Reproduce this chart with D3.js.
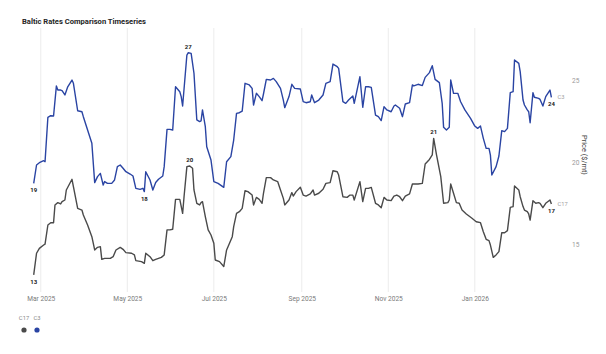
<!DOCTYPE html>
<html>
<head>
<meta charset="utf-8">
<script src="https://cdn.jsdelivr.net/npm/d3@7"></script>
<style>
  body { margin: 0; background: #fff; }
  svg { font-family: "Roboto", "Open Sans", sans-serif; }
</style>
</head>
<body>
<svg id="chart" width="606" height="354"></svg>
<script>
// C3 series (blue)
const c3Dates = ["2025-02-24","2025-02-26","2025-02-28","2025-03-03","2025-03-04","2025-03-06","2025-03-08","2025-03-10","2025-03-12","2025-03-13","2025-03-15","2025-03-16","2025-03-18","2025-03-20","2025-03-23","2025-03-24","2025-03-27","2025-03-30","2025-03-31","2025-04-03","2025-04-06","2025-04-08","2025-04-10","2025-04-12","2025-04-14","2025-04-15","2025-04-17","2025-04-20","2025-04-22","2025-04-24","2025-04-26","2025-04-28","2025-04-30","2025-05-03","2025-05-05","2025-05-07","2025-05-10","2025-05-12","2025-05-13","2025-05-14","2025-05-17","2025-05-19","2025-05-21","2025-05-23","2025-05-26","2025-05-27","2025-05-29","2025-05-31","2025-06-02","2025-06-04","2025-06-07","2025-06-08","2025-06-09","2025-06-12","2025-06-13","2025-06-15","2025-06-17","2025-06-19","2025-06-21","2025-06-22","2025-06-23","2025-06-25","2025-06-26","2025-06-29","2025-07-01","2025-07-04","2025-07-08","2025-07-10","2025-07-13","2025-07-15","2025-07-17","2025-07-19","2025-07-21","2025-07-23","2025-07-26","2025-07-28","2025-07-29","2025-07-31","2025-08-02","2025-08-04","2025-08-05","2025-08-07","2025-08-10","2025-08-12","2025-08-14","2025-08-17","2025-08-19","2025-08-20","2025-08-23","2025-08-25","2025-08-27","2025-08-31","2025-09-02","2025-09-04","2025-09-07","2025-09-08","2025-09-10","2025-09-13","2025-09-16","2025-09-18","2025-09-21","2025-09-23","2025-09-26","2025-09-27","2025-09-30","2025-10-02","2025-10-04","2025-10-07","2025-10-08","2025-10-12","2025-10-14","2025-10-16","2025-10-18","2025-10-20","2025-10-23","2025-10-25","2025-10-27","2025-10-29","2025-10-31","2025-11-03","2025-11-05","2025-11-06","2025-11-09","2025-11-11","2025-11-13","2025-11-16","2025-11-18","2025-11-19","2025-11-22","2025-11-25","2025-11-27","2025-11-30","2025-12-02","2025-12-04","2025-12-07","2025-12-09","2025-12-10","2025-12-12","2025-12-14","2025-12-15","2025-12-17","2025-12-20","2025-12-22","2025-12-25","2025-12-29","2026-01-01","2026-01-03","2026-01-05","2026-01-07","2026-01-09","2026-01-11","2026-01-12","2026-01-13","2026-01-16","2026-01-18","2026-01-20","2026-01-22","2026-01-24","2026-01-26","2026-01-28","2026-01-29","2026-02-01","2026-02-02","2026-02-04","2026-02-05","2026-02-07","2026-02-08","2026-02-09","2026-02-11","2026-02-12","2026-02-15","2026-02-16","2026-02-18","2026-02-20","2026-02-23","2026-02-24"];
const c3Values = [18.71,19.83,19.97,20.09,20.03,22.73,22.83,22.81,24.64,24.39,24.39,24.35,24.09,24.59,25.00,24.80,23.13,23.07,22.77,21.96,21.15,18.76,19.12,19.32,18.61,18.82,18.71,18.71,18.92,19.73,19.83,19.63,19.42,19.28,19.16,18.41,18.35,18.41,18.21,19.42,18.92,18.31,18.76,18.96,19.16,19.73,22.00,22.00,21.96,24.59,24.29,23.99,23.42,26.52,26.66,26.62,25.41,22.57,22.47,22.51,23.18,22.16,20.94,20.13,18.82,18.71,18.47,20.03,20.34,21.35,22.97,23.01,23.11,24.80,24.70,24.49,23.48,24.19,23.99,23.74,24.15,25.04,25.00,25.10,24.90,24.49,23.78,23.32,23.99,24.74,24.49,24.45,23.68,23.62,23.68,24.09,23.62,23.78,24.09,24.80,24.90,25.97,25.81,25.71,23.68,23.58,23.78,24.03,23.58,25.20,23.34,24.59,24.59,24.55,22.87,22.77,22.53,23.38,23.18,23.07,23.42,23.48,23.28,22.77,23.54,23.62,24.70,24.64,24.74,24.66,25.16,25.45,25.87,25.04,24.84,23.58,22.12,21.96,22.12,25.00,24.19,24.19,23.68,23.18,22.67,22.20,22.06,22.20,21.45,20.84,20.84,20.43,19.22,19.73,20.38,21.92,21.86,22.06,24.23,24.29,26.22,26.01,25.51,23.78,23.48,23.18,23.07,22.40,24.23,23.95,23.88,23.82,23.42,23.99,24.39,23.95];

// C17 series (grey)
const c17Dates = ["2025-02-24","2025-02-26","2025-02-28","2025-03-03","2025-03-04","2025-03-06","2025-03-08","2025-03-10","2025-03-11","2025-03-13","2025-03-15","2025-03-16","2025-03-18","2025-03-19","2025-03-23","2025-03-24","2025-03-27","2025-03-30","2025-03-31","2025-04-03","2025-04-06","2025-04-08","2025-04-10","2025-04-12","2025-04-13","2025-04-15","2025-04-19","2025-04-21","2025-04-23","2025-04-26","2025-04-28","2025-04-30","2025-05-04","2025-05-06","2025-05-07","2025-05-11","2025-05-13","2025-05-14","2025-05-17","2025-05-19","2025-05-21","2025-05-25","2025-05-27","2025-05-29","2025-05-31","2025-06-02","2025-06-04","2025-06-07","2025-06-09","2025-06-10","2025-06-12","2025-06-14","2025-06-16","2025-06-17","2025-06-19","2025-06-21","2025-06-22","2025-06-23","2025-06-25","2025-06-27","2025-06-29","2025-07-01","2025-07-02","2025-07-05","2025-07-08","2025-07-10","2025-07-11","2025-07-14","2025-07-15","2025-07-17","2025-07-19","2025-07-21","2025-07-23","2025-07-25","2025-07-28","2025-07-29","2025-07-31","2025-08-02","2025-08-04","2025-08-05","2025-08-07","2025-08-10","2025-08-12","2025-08-15","2025-08-17","2025-08-19","2025-08-20","2025-08-23","2025-08-25","2025-08-26","2025-08-28","2025-08-31","2025-09-02","2025-09-04","2025-09-07","2025-09-09","2025-09-10","2025-09-13","2025-09-16","2025-09-18","2025-09-21","2025-09-23","2025-09-26","2025-09-27","2025-09-30","2025-10-03","2025-10-05","2025-10-07","2025-10-08","2025-10-12","2025-10-14","2025-10-16","2025-10-18","2025-10-20","2025-10-23","2025-10-25","2025-10-27","2025-10-29","2025-10-31","2025-11-03","2025-11-05","2025-11-07","2025-11-09","2025-11-11","2025-11-13","2025-11-16","2025-11-18","2025-11-20","2025-11-22","2025-11-25","2025-11-27","2025-11-30","2025-12-02","2025-12-03","2025-12-05","2025-12-08","2025-12-10","2025-12-13","2025-12-14","2025-12-15","2025-12-17","2025-12-19","2025-12-21","2025-12-23","2025-12-26","2025-12-30","2026-01-02","2026-01-05","2026-01-07","2026-01-09","2026-01-11","2026-01-12","2026-01-14","2026-01-16","2026-01-18","2026-01-20","2026-01-22","2026-01-24","2026-01-26","2026-01-28","2026-01-29","2026-02-01","2026-02-02","2026-02-04","2026-02-05","2026-02-07","2026-02-08","2026-02-09","2026-02-11","2026-02-13","2026-02-15","2026-02-16","2026-02-18","2026-02-20","2026-02-23","2026-02-24"];
const c17Values = [13.14,14.46,14.76,14.96,15.02,16.18,16.32,16.32,17.40,17.54,17.46,17.60,17.70,18.31,18.96,18.51,17.19,17.09,16.79,16.18,15.47,14.66,14.82,14.86,14.09,14.15,14.15,14.25,14.66,14.82,14.70,14.50,14.46,14.36,14.01,13.95,13.85,14.46,14.25,14.01,14.09,14.21,14.36,15.88,15.88,15.92,17.74,17.74,16.89,17.90,19.73,19.77,19.63,18.31,17.50,17.40,17.54,17.60,16.69,15.88,15.57,15.07,14.05,13.95,13.65,14.66,14.86,15.47,16.08,16.89,16.99,17.19,18.27,18.21,18.00,17.40,17.86,17.74,17.50,18.11,19.06,19.06,18.92,18.82,18.31,17.80,17.40,17.70,18.15,17.94,18.21,18.47,18.00,17.94,18.07,18.31,18.00,18.11,18.35,18.71,18.76,19.48,19.42,19.22,17.90,17.86,18.00,18.00,17.70,18.82,17.60,18.41,18.41,18.47,17.50,17.40,17.23,17.86,17.70,17.66,17.94,18.00,17.90,17.66,17.94,18.07,18.67,18.67,18.67,18.71,19.89,20.17,20.44,21.45,20.44,19.12,17.50,17.54,17.70,18.67,18.11,17.54,17.50,17.09,16.85,16.59,16.38,16.32,15.77,15.31,15.23,14.96,14.21,14.36,14.56,15.71,15.71,15.84,17.25,17.30,18.55,18.31,17.90,17.30,17.09,16.99,16.85,16.48,17.66,17.50,17.54,17.50,17.23,17.50,17.70,17.46];

// points that carry a value label, and where the label sits
const c3LabelDates = ["2025-02-24","2025-05-13","2025-06-13","2026-02-24"];
const c3LabelSides = ["below","below","above","below"];
const c17LabelDates = ["2025-02-24","2025-06-14","2025-12-03","2026-02-24"];
const c17LabelSides = ["below","above","above","below"];

const yTicks = [15, 20, 25];
const seriesNames = ["C17", "C3"];
const seriesColors = ["#4a4a4a", "#2a44a3"];

const parse = d3.timeParse("%Y-%m-%d");

function buildSeries(dates, values) {
    return dates.map((d, i) => ({ date: parse(d), value: values[i] }));
}

const series = [
    { name: "C17", color: seriesColors[0], data: buildSeries(c17Dates, c17Values),
      labelDates: c17LabelDates, labelSides: c17LabelSides },
    { name: "C3", color: seriesColors[1], data: buildSeries(c3Dates, c3Values),
      labelDates: c3LabelDates, labelSides: c3LabelSides }
];

const svg = d3.select("#chart");
const plot = { left: 33.7, right: 551.4, top: 28, bottom: 292 };

const x = d3.scaleTime()
    .domain([parse(c3Dates[0]), parse(c3Dates[c3Dates.length - 1])])
    .range([plot.left, plot.right]);

const y = d3.scaleLinear()
    .domain([12, 28])
    .range([293.7, 30.7]);

// title
svg.append("text")
    .attr("x", 22)
    .attr("y", 24)
    .attr("font-size", "7.6px")
    .attr("font-weight", "bold")
    .attr("fill", "#252525")
    .text("Baltic Rates Comparison Timeseries");

// vertical month gridlines
const monthTicks = x.ticks(d3.timeMonth.every(2));
svg.append("g")
    .selectAll("line")
    .data(monthTicks)
    .enter()
    .append("line")
    .attr("x1", d => x(d)).attr("x2", d => x(d))
    .attr("y1", plot.top).attr("y2", plot.bottom)
    .attr("stroke", "#ececec")
    .attr("stroke-width", 1);

// x axis
const xAxis = svg.append("g")
    .attr("transform", "translate(0," + 293 + ")")
    .call(d3.axisBottom(x).tickValues(monthTicks).tickFormat(d3.timeFormat("%b %Y")).tickSize(0).tickPadding(3));
xAxis.select(".domain").remove();
xAxis.selectAll("text")
    .attr("font-size", "6.6px")
    .attr("fill", "#7a7a7a")
    .attr("font-family", "Roboto, sans-serif");

// y axis on the right
const yAxis = svg.append("g")
    .attr("transform", "translate(569,0)")
    .call(d3.axisRight(y).tickValues(yTicks).tickSize(0).tickPadding(3));
yAxis.select(".domain").remove();
yAxis.selectAll("text")
    .attr("font-size", "6.6px")
    .attr("fill", "#9a9a9a")
    .attr("font-family", "Roboto, sans-serif");

svg.append("text")
    .attr("transform", "translate(582,155) rotate(90)")
    .attr("text-anchor", "middle")
    .attr("font-size", "7.4px")
    .attr("fill", "#444")
    .text("Price ($/mt)");

// lines
const line = d3.line()
    .x(d => x(d.date))
    .y(d => y(d.value));

series.forEach(s => {
    svg.append("path")
        .datum(s.data)
        .attr("fill", "none")
        .attr("stroke", s.color)
        .attr("stroke-width", 1.4)
        .attr("stroke-linejoin", "round")
        .attr("d", line);

    // value labels
    const fmt = d3.timeFormat("%Y-%m-%d");
    s.labelDates.forEach((ld, i) => {
        const pt = s.data.find(d => fmt(d.date) === ld);
        svg.append("text")
            .attr("x", x(pt.date))
            .attr("y", y(pt.value) + (s.labelSides[i] === "above" ? -4 : 9))
            .attr("text-anchor", "middle")
            .attr("font-size", "6px")
            .attr("font-weight", "bold")
            .attr("fill", "#222")
            .text(Math.round(pt.value));
    });

    // series name at line end
    const last = s.data[s.data.length - 1];
    svg.append("text")
        .attr("x", x(last.date) + 6)
        .attr("y", y(last.value) + 2)
        .attr("font-size", "5.8px")
        .attr("fill", "#a0a0a0")
        .text(s.name);
});

// legend
const legend = svg.append("g").selectAll("g")
    .data(seriesNames)
    .enter()
    .append("g")
    .attr("transform", (d, i) => "translate(" + (24 + i * 13) + ",0)");

legend.append("text")
    .attr("y", 320)
    .attr("text-anchor", "middle")
    .attr("font-size", "5.8px")
    .attr("fill", "#888")
    .text(d => d);

legend.append("circle")
    .attr("cy", 330)
    .attr("r", 2.6)
    .attr("fill", (d, i) => seriesColors[i]);
</script>
</body>
</html>
